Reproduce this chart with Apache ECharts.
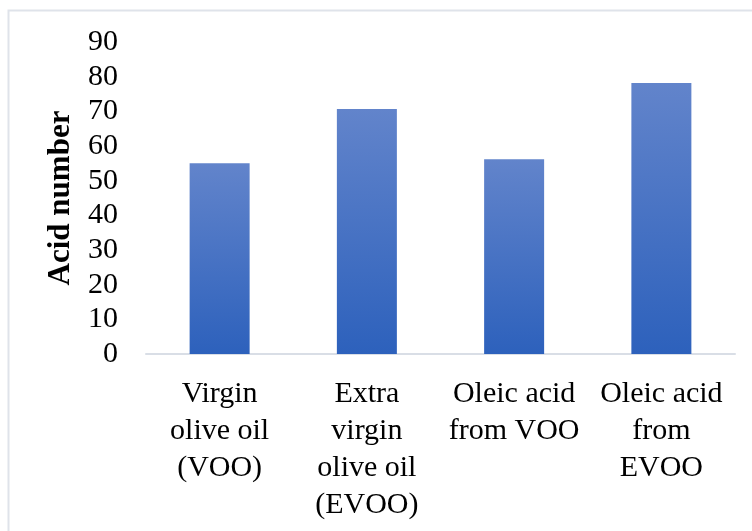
<!DOCTYPE html>
<html>
<head>
<meta charset="utf-8">
<script src="https://cdn.jsdelivr.net/npm/echarts@6/dist/echarts.min.js"></script>
<style>
html, body { margin: 0; padding: 0; background: #fff; }
#main { width: 752px; height: 531px; }
</style>
</head>
<body>
<div id="main"></div>
<script>
var categories = ['Virgin\nolive oil\n(VOO)', 'Extra\nvirgin\nolive oil\n(EVOO)', 'Oleic acid\nfrom VOO', 'Oleic acid\nfrom\nEVOO'];
var acidValues = [55, 70.7, 56.2, 78.2];
var yTicks = [0, 90, 10];

var myChart = echarts.init(document.getElementById('main'));
var serif = '"Liberation Serif", "Times New Roman", serif';

option = {
    animation: false,
    graphic: [
        {
            type: 'rect',
            shape: { x: 8.5, y: 10.5, width: 760, height: 540 },
            style: { fill: 'none', stroke: '#dfe3ea', lineWidth: 2 },
            silent: true
        }
    ],
    grid: { left: 146, right: 17, top: 42, bottom: 177 },
    xAxis: {
        type: 'category',
        data: categories,
        axisLine: { lineStyle: { color: '#d9dee6', width: 2 } },
        axisTick: { show: false },
        axisLabel: {
            color: '#000',
            fontFamily: serif,
            fontSize: 30,
            lineHeight: 37,
            margin: 22,
            interval: 0
        }
    },
    yAxis: {
        type: 'value',
        min: yTicks[0],
        max: yTicks[1],
        interval: yTicks[2],
        name: 'Acid number',
        nameLocation: 'middle',
        nameGap: 70,
        nameTextStyle: {
            color: '#000',
            fontFamily: serif,
            fontSize: 31,
            fontWeight: 'bold'
        },
        axisLine: { show: false },
        axisTick: { show: false },
        splitLine: { show: false },
        axisLabel: {
            color: '#000',
            fontFamily: serif,
            fontSize: 30,
            margin: 28
        }
    },
    series: [
        {
            type: 'bar',
            data: acidValues,
            barWidth: 60,
            itemStyle: {
                color: new echarts.graphic.LinearGradient(0, 0, 0, 1, [
                    { offset: 0, color: '#6284cb' },
                    { offset: 1, color: '#2d61bc' }
                ])
            }
        }
    ]
};
myChart.setOption(option);
</script>
</body>
</html>
